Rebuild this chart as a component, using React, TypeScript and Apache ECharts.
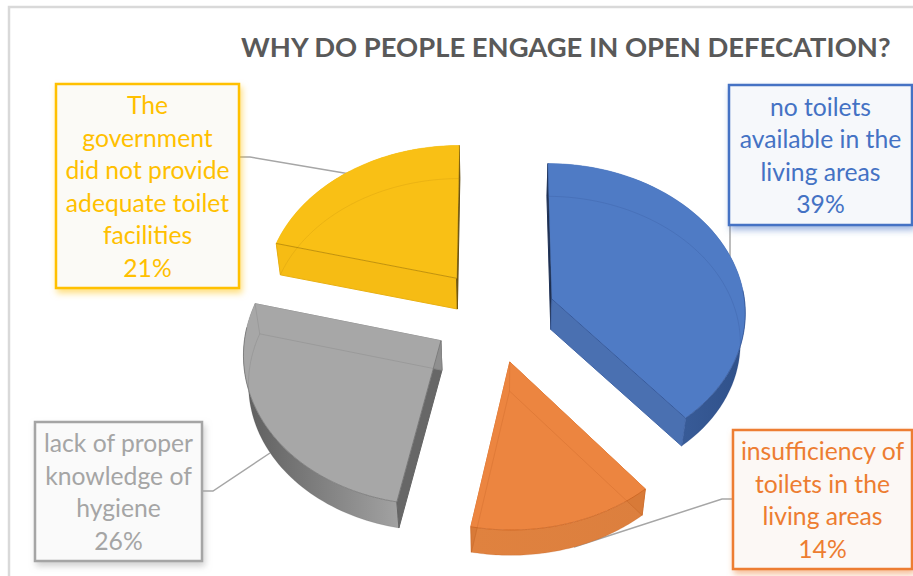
import React, { useEffect, useRef } from "react";
import * as echarts from "echarts";

const titleText = "WHY DO PEOPLE ENGAGE IN OPEN DEFECATION?";
const categories = [
  "no toilets\navailable in the\nliving areas",
  "insufficiency of\ntoilets in the\nliving areas",
  "lack of proper\nknowledge of\nhygiene",
  "The\ngovernment\ndid not provide\nadequate toilet\nfacilities",
];
const shares = [39, 14, 26, 21];

// Camera used to project the exploded, tilted pie onto the page.
const camera = { cx: 494, cy: 315, hx: 194, vy: 148, persp: 0.075, sink: 0.02, depth: 30 };
const explode = 0.32;
const sampleCount = 60;

const sliceStyles = [
  {
    top: "#4f7bc5", edge: "rgba(40,70,130,0.55)", ghost: "rgba(35,65,125,0.16)",
    startWall: "#1f3050", endWall: "#4a70b1", frontEdge: "end",
    outer: ["#4b73b6", "#2f5089"],
  },
  {
    top: "#ec8540", edge: "rgba(190,90,25,0.6)", ghost: "rgba(170,80,20,0.18)",
    startWall: "#d87a38", endWall: "#d87a38", frontEdge: "",
    outer: ["#e0823f", "#dc7f3e"],
  },
  {
    top: "#a7a7a7", edge: "rgba(90,90,90,0.5)", ghost: "rgba(90,90,90,0.16)",
    startWall: "#676767", endWall: "#8f8f8f", frontEdge: "start",
    outer: ["#5e5e5e", "#a2a2a2"],
  },
  {
    top: "#f9c015", edge: "rgba(150,110,10,0.55)", ghost: "rgba(170,120,10,0.18)",
    startWall: "#f6bc14", endWall: "#5d4a14", frontEdge: "start",
    outer: ["#e8b112", "#e8b112"],
  },
];

const callouts = [
  { box: [729, 85, 183, 140], color: "#4472c4", fill: "#f6f8fb", leader: [[730, 225], [730, 256]] },
  { box: [733, 430, 179, 139], color: "#ed7d31", fill: "#fcf8f5", leader: [[733, 499], [722, 499], [574, 547]] },
  { box: [35, 422, 167, 139], color: "#a5a5a5", fill: "#fafafa", leader: [[203, 491], [213, 491], [270, 453]] },
  { box: [56, 84, 183, 204], color: "#ffc000", fill: "#fbfaf6", leader: [[240, 157], [250, 157], [350, 174]] },
];

const rad = (deg: number) => (deg * Math.PI) / 180;

function project(x: number, y: number, z: number): number[] {
  const w = 1 + camera.persp * y + camera.sink * z;
  return [camera.cx + (camera.hx * x) / w, camera.cy - (camera.vy * y) / w + camera.depth * z];
}

function renderSlice(params: any, api: any) {
  const i = params.dataIndex;
  const total = shares.reduce((a, b) => a + b, 0);
  const before = shares.slice(0, i).reduce((a, b) => a + b, 0);
  const start = (before / total) * 360;
  const sweep = (api.value(0) / total) * 360;
  const mid = rad(start + sweep / 2);
  const ox = Math.sin(mid) * explode;
  const oy = Math.cos(mid) * explode;
  const look = sliceStyles[i];

  const arc = (z: number) => {
    const pts: number[][] = [];
    for (let k = 0; k <= sampleCount; k++) {
      const a = rad(start + (sweep * k) / sampleCount);
      pts.push(project(ox + Math.sin(a), oy + Math.cos(a), z));
    }
    return pts;
  };
  const apexTop = project(ox, oy, 0);
  const apexBase = project(ox, oy, 1);
  const arcTop = arc(0);
  const arcBase = arc(1);
  const firstTop = arcTop[0];
  const lastTop = arcTop[sampleCount];
  const firstBase = arcBase[0];
  const lastBase = arcBase[sampleCount];

  // Rim of the top face on the near side, where the outer wall shows below it.
  const nearRim = arcTop.filter((_, k) => {
    const a = rad(start + (sweep * k) / sampleCount);
    return Math.cos(a) < 0.1;
  });

  const poly = (points: number[][], style: any) => ({ type: "polygon", shape: { points }, style, silent: true });
  const line = (points: number[][], style: any) => ({
    type: "polyline",
    shape: { points },
    style: { fill: "none", ...style },
    silent: true,
  });

  const children: any[] = [
    poly([...arcTop, ...arcBase.slice().reverse()], {
      fill: new echarts.graphic.LinearGradient(0, 0, 1, 0, [
        { offset: 0, color: look.outer[0] },
        { offset: 1, color: look.outer[1] },
      ]),
    }),
    poly([apexTop, firstTop, firstBase, apexBase], { fill: look.startWall, stroke: look.startWall, lineWidth: 1 }),
    poly([apexTop, lastTop, lastBase, apexBase], { fill: look.endWall, stroke: look.endWall, lineWidth: 1 }),
    poly([apexTop, ...arcTop], { fill: look.top, stroke: look.top, lineWidth: 0.5 }),
    // The lower rim and corner posts show faintly through the shell.
    line([apexBase, ...arcBase, apexBase], { stroke: look.ghost, lineWidth: 1 }),
    line([apexTop, apexBase], { stroke: look.ghost, lineWidth: 1 }),
    line([firstTop, firstBase], { stroke: look.ghost, lineWidth: 1 }),
    line([lastTop, lastBase], { stroke: look.ghost, lineWidth: 1 }),
  ];
  if (nearRim.length > 1) children.push(line(nearRim, { stroke: look.edge, lineWidth: 1 }));
  if (look.frontEdge === "start") children.push(line([apexTop, firstTop], { stroke: look.edge, lineWidth: 1 }));
  if (look.frontEdge === "end") children.push(line([apexTop, lastTop], { stroke: look.edge, lineWidth: 1 }));

  return { type: "group", children };
}

export default function App() {
  const ref = useRef<HTMLDivElement>(null);

  useEffect(() => {
    const chart = echarts.init(ref.current!, null, { renderer: "svg" });
    const font = "Lato, 'Open Sans', sans-serif";

    const graphics: any[] = [
      // Chart area frame, visible along the top and the left only.
      {
        type: "polyline",
        z: 0,
        shape: { points: [[9, 576], [9, 7], [913, 7]] },
        style: { fill: "none", stroke: "#d9d9d9", lineWidth: 2.5 },
      },
    ];
    callouts.forEach((c, i) => {
      const [x, y, w, h] = c.box;
      graphics.push({
        type: "polyline",
        z: 1,
        shape: { points: c.leader },
        style: { fill: "none", stroke: "#a6a6a6", lineWidth: 1.5 },
      });
      graphics.push({
        type: "rect",
        z: 5,
        shape: { x, y, width: w, height: h },
        style: {
          fill: c.fill,
          stroke: c.color,
          lineWidth: 2.5,
          shadowColor: c.color + "80",
          shadowBlur: 6,
          shadowOffsetX: 2,
          shadowOffsetY: 4,
        },
      });
      graphics.push({
        type: "text",
        z: 6,
        x: x + w / 2,
        y: y + h / 2,
        style: {
          text: `${categories[i]}\n${shares[i]}%`,
          fill: c.color,
          font: `24.7px ${font}`,
          lineHeight: 32.5,
          align: "center",
          verticalAlign: "middle",
        },
      });
    });

    chart.setOption({
      animation: false,
      title: {
        text: titleText,
        left: 236,
        top: 26,
        textStyle: { color: "#595959", fontFamily: font, fontWeight: "bold", fontSize: 27.4, lineHeight: 30 },
      },
      graphic: { elements: graphics },
      series: [
        {
          type: "custom",
          coordinateSystem: "none",
          z: 3,
          silent: true,
          data: shares.map((v) => [v]),
          renderItem: renderSlice,
        },
      ],
    });
    return () => chart.dispose();
  }, []);

  return <div ref={ref} style={{ position: "fixed", left: 0, top: 0, width: 913, height: 576, background: "#fff" }} />;
}
